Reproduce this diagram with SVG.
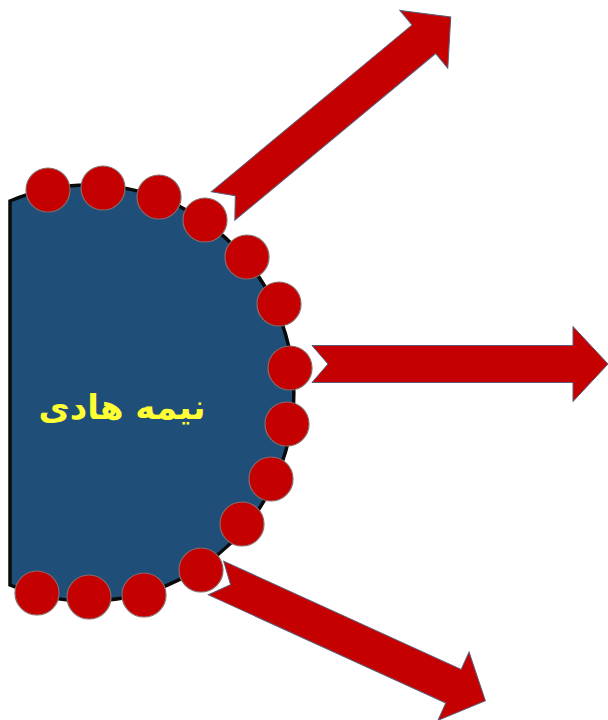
<svg xmlns="http://www.w3.org/2000/svg" width="608" height="720" viewBox="0 0 608 720">
  <style>
    .arrow { fill: #c40000; stroke: #5b5b78; stroke-width: 1; }
    .bead { fill: #c40000; stroke: #8a6a6a; stroke-width: 1.2; }
    .label { font-family: "DejaVu Sans", sans-serif; font-weight: bold; font-size: 34px; fill: #ffff33; }
  </style>
  <defs>
    <path id="blockArrow" d="M0,-18.5 L261,-18.5 L261,-37.5 L296,0 L261,37.5 L261,18.5 L0,18.5 L16,0 Z"/>
  </defs>
  <rect width="608" height="720" fill="#ffffff"/>
  <g id="semiconductor">
    <path d="M10,201 A205,208 0 1 1 10,585 Z" fill="#1f4e79" stroke="#0a0a0a" stroke-width="3.5"/>
    <text class="label" x="122" y="419" text-anchor="middle" direction="rtl">نیمه هادی</text>
  </g>
  <g id="arrows">
    <use href="#blockArrow" class="arrow" transform="translate(223,206) rotate(-39.7)"/>
    <use href="#blockArrow" class="arrow" transform="translate(312,364)"/>
    <use href="#blockArrow" class="arrow" transform="translate(216,578) rotate(24.5)"/>
  </g>
  <g id="beads">
    <circle class="bead" cx="48" cy="190" r="22"/>
    <circle class="bead" cx="103" cy="188" r="22"/>
    <circle class="bead" cx="159" cy="197" r="22"/>
    <circle class="bead" cx="205" cy="220" r="22"/>
    <circle class="bead" cx="247" cy="257" r="22"/>
    <circle class="bead" cx="279" cy="304" r="22"/>
    <circle class="bead" cx="290" cy="368" r="22"/>
    <circle class="bead" cx="287" cy="424" r="22"/>
    <circle class="bead" cx="271" cy="479" r="22"/>
    <circle class="bead" cx="242" cy="524" r="22"/>
    <circle class="bead" cx="201" cy="570" r="22"/>
    <circle class="bead" cx="144" cy="595" r="22"/>
    <circle class="bead" cx="89" cy="597" r="22"/>
    <circle class="bead" cx="37" cy="593" r="22"/>
  </g>
</svg>
